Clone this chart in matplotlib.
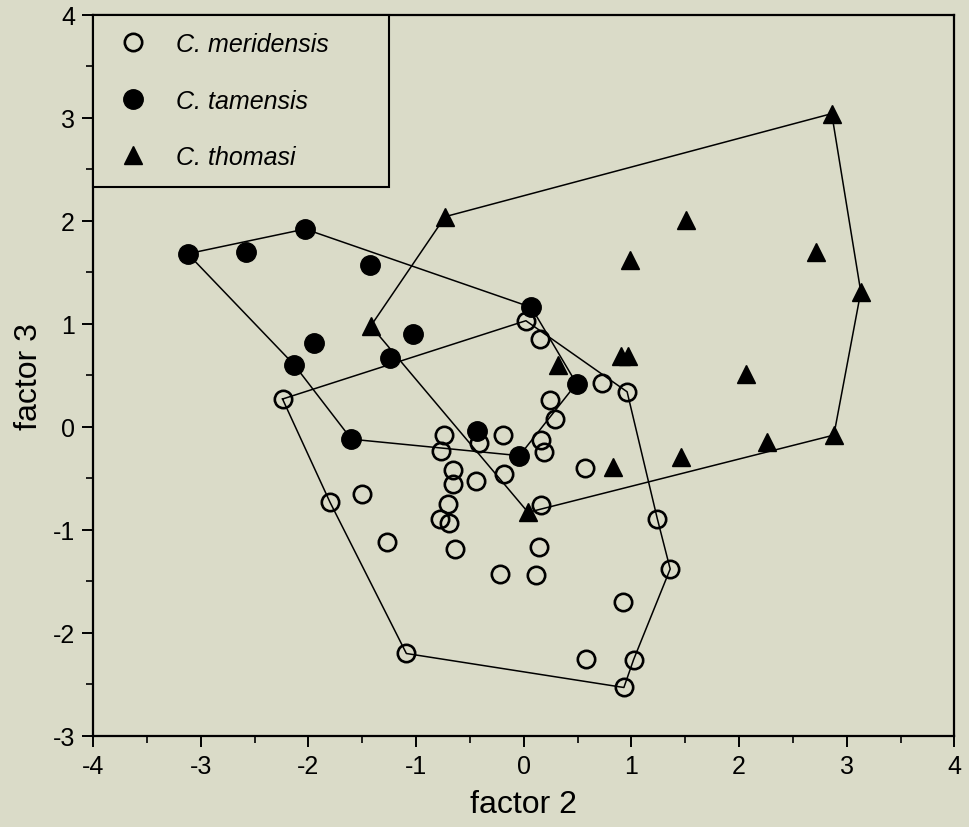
import matplotlib.pyplot as plt
from matplotlib.ticker import MultipleLocator

plt.rcParams["font.family"] = ["Liberation Sans", "DejaVu Sans"]
plt.rcParams["axes.unicode_minus"] = False

# C. meridensis (open circles)
mer_x = [-2.24, 0.02, 0.15, 0.73, 0.96, 0.24, 0.29, 0.16, 0.19, -0.19, -0.42, -0.74,
         -0.77, -0.18, -0.66, -0.66, -0.44, 0.57, 0.16, -1.50, -0.70, -0.78, -0.69,
         -1.27, 1.24, -0.64, 0.14, -1.80, -1.09, -0.22, 0.11, 1.36, 0.92, 0.58, 1.02, 0.93]
mer_y = [0.27, 1.03, 0.85, 0.43, 0.34, 0.26, 0.08, -0.13, -0.24, -0.08, -0.16, -0.08,
         -0.23, -0.46, -0.42, -0.55, -0.53, -0.40, -0.76, -0.65, -0.75, -0.89, -0.93,
         -1.12, -0.89, -1.19, -1.17, -0.73, -2.20, -1.43, -1.44, -1.38, -1.70, -2.25, -2.26, -2.53]
mer_hull = [0, 1, 4, 24, 31, 34, 35, 28, 27, 0]

# C. tamensis (filled circles)
tam_x = [-3.12, -2.58, -2.03, -1.43, 0.07, -1.95, -1.03, -2.13, -1.24, -1.60, -0.43, -0.04, 0.49]
tam_y = [1.68, 1.70, 1.92, 1.57, 1.16, 0.81, 0.90, 0.60, 0.67, -0.12, -0.04, -0.28, 0.42]
tam_hull = [0, 2, 4, 12, 11, 9, 7, 0]

# C. thomasi (triangles)
tho_x = [-0.73, 2.86, 1.51, 0.99, 2.71, 3.13, -1.42, 0.32, 0.90, 0.97, 2.06, 0.83, 1.46, 2.26, 2.88, 0.04]
tho_y = [2.04, 3.04, 2.01, 1.62, 1.70, 1.31, 0.98, 0.60, 0.69, 0.69, 0.51, -0.39, -0.29, -0.15, -0.08, -0.83]
tho_hull = [0, 1, 5, 14, 15, 6, 0]

bg = "#dadbc8"
fig = plt.figure(figsize=(9.69, 8.28), dpi=100, facecolor=bg)
ax = fig.add_axes([0.096, 0.110, 0.889, 0.871], facecolor=bg)

# hull outlines
for xs, ys, hull in [(mer_x, mer_y, mer_hull), (tam_x, tam_y, tam_hull), (tho_x, tho_y, tho_hull)]:
    ax.plot([xs[i] for i in hull], [ys[i] for i in hull], color="black", linewidth=1.1, zorder=1)

ax.plot(mer_x, mer_y, linestyle="none", marker="o", markersize=12.5, markerfacecolor="none",
        markeredgecolor="black", markeredgewidth=1.9, label="C. meridensis", zorder=2)
ax.plot(tam_x, tam_y, linestyle="none", marker="o", markersize=14, color="black",
        label="C. tamensis", zorder=3)
ax.plot(tho_x, tho_y, linestyle="none", marker="^", markersize=13.5, color="black",
        label="C. thomasi", zorder=3)

ax.set_xlim(-4, 4)
ax.set_ylim(-3, 4)
ax.xaxis.set_major_locator(MultipleLocator(1))
ax.xaxis.set_minor_locator(MultipleLocator(0.5))
ax.yaxis.set_major_locator(MultipleLocator(1))
ax.yaxis.set_minor_locator(MultipleLocator(0.5))
ax.tick_params(which="major", direction="out", length=8, width=1.4, labelsize=18, pad=5)
ax.tick_params(which="minor", direction="out", length=5, width=1.2)
for s in ax.spines.values():
    s.set_linewidth(1.6)

ax.set_xlabel("factor 2", fontsize=23, labelpad=8)
ax.set_ylabel("factor 3", fontsize=23, labelpad=6)

leg = ax.legend(loc="upper left", bbox_to_anchor=(0.0, 0.0, 0.344, 1.0), mode="expand",
                borderaxespad=0, fancybox=False, edgecolor="black", facecolor=bg, framealpha=1,
                prop={"style": "italic", "size": 18}, handlelength=1.8, handletextpad=0.8,
                borderpad=0.7, labelspacing=1.3)
leg.get_frame().set_linewidth(1.5)

fig.savefig("out.png", dpi=100, facecolor=bg)
